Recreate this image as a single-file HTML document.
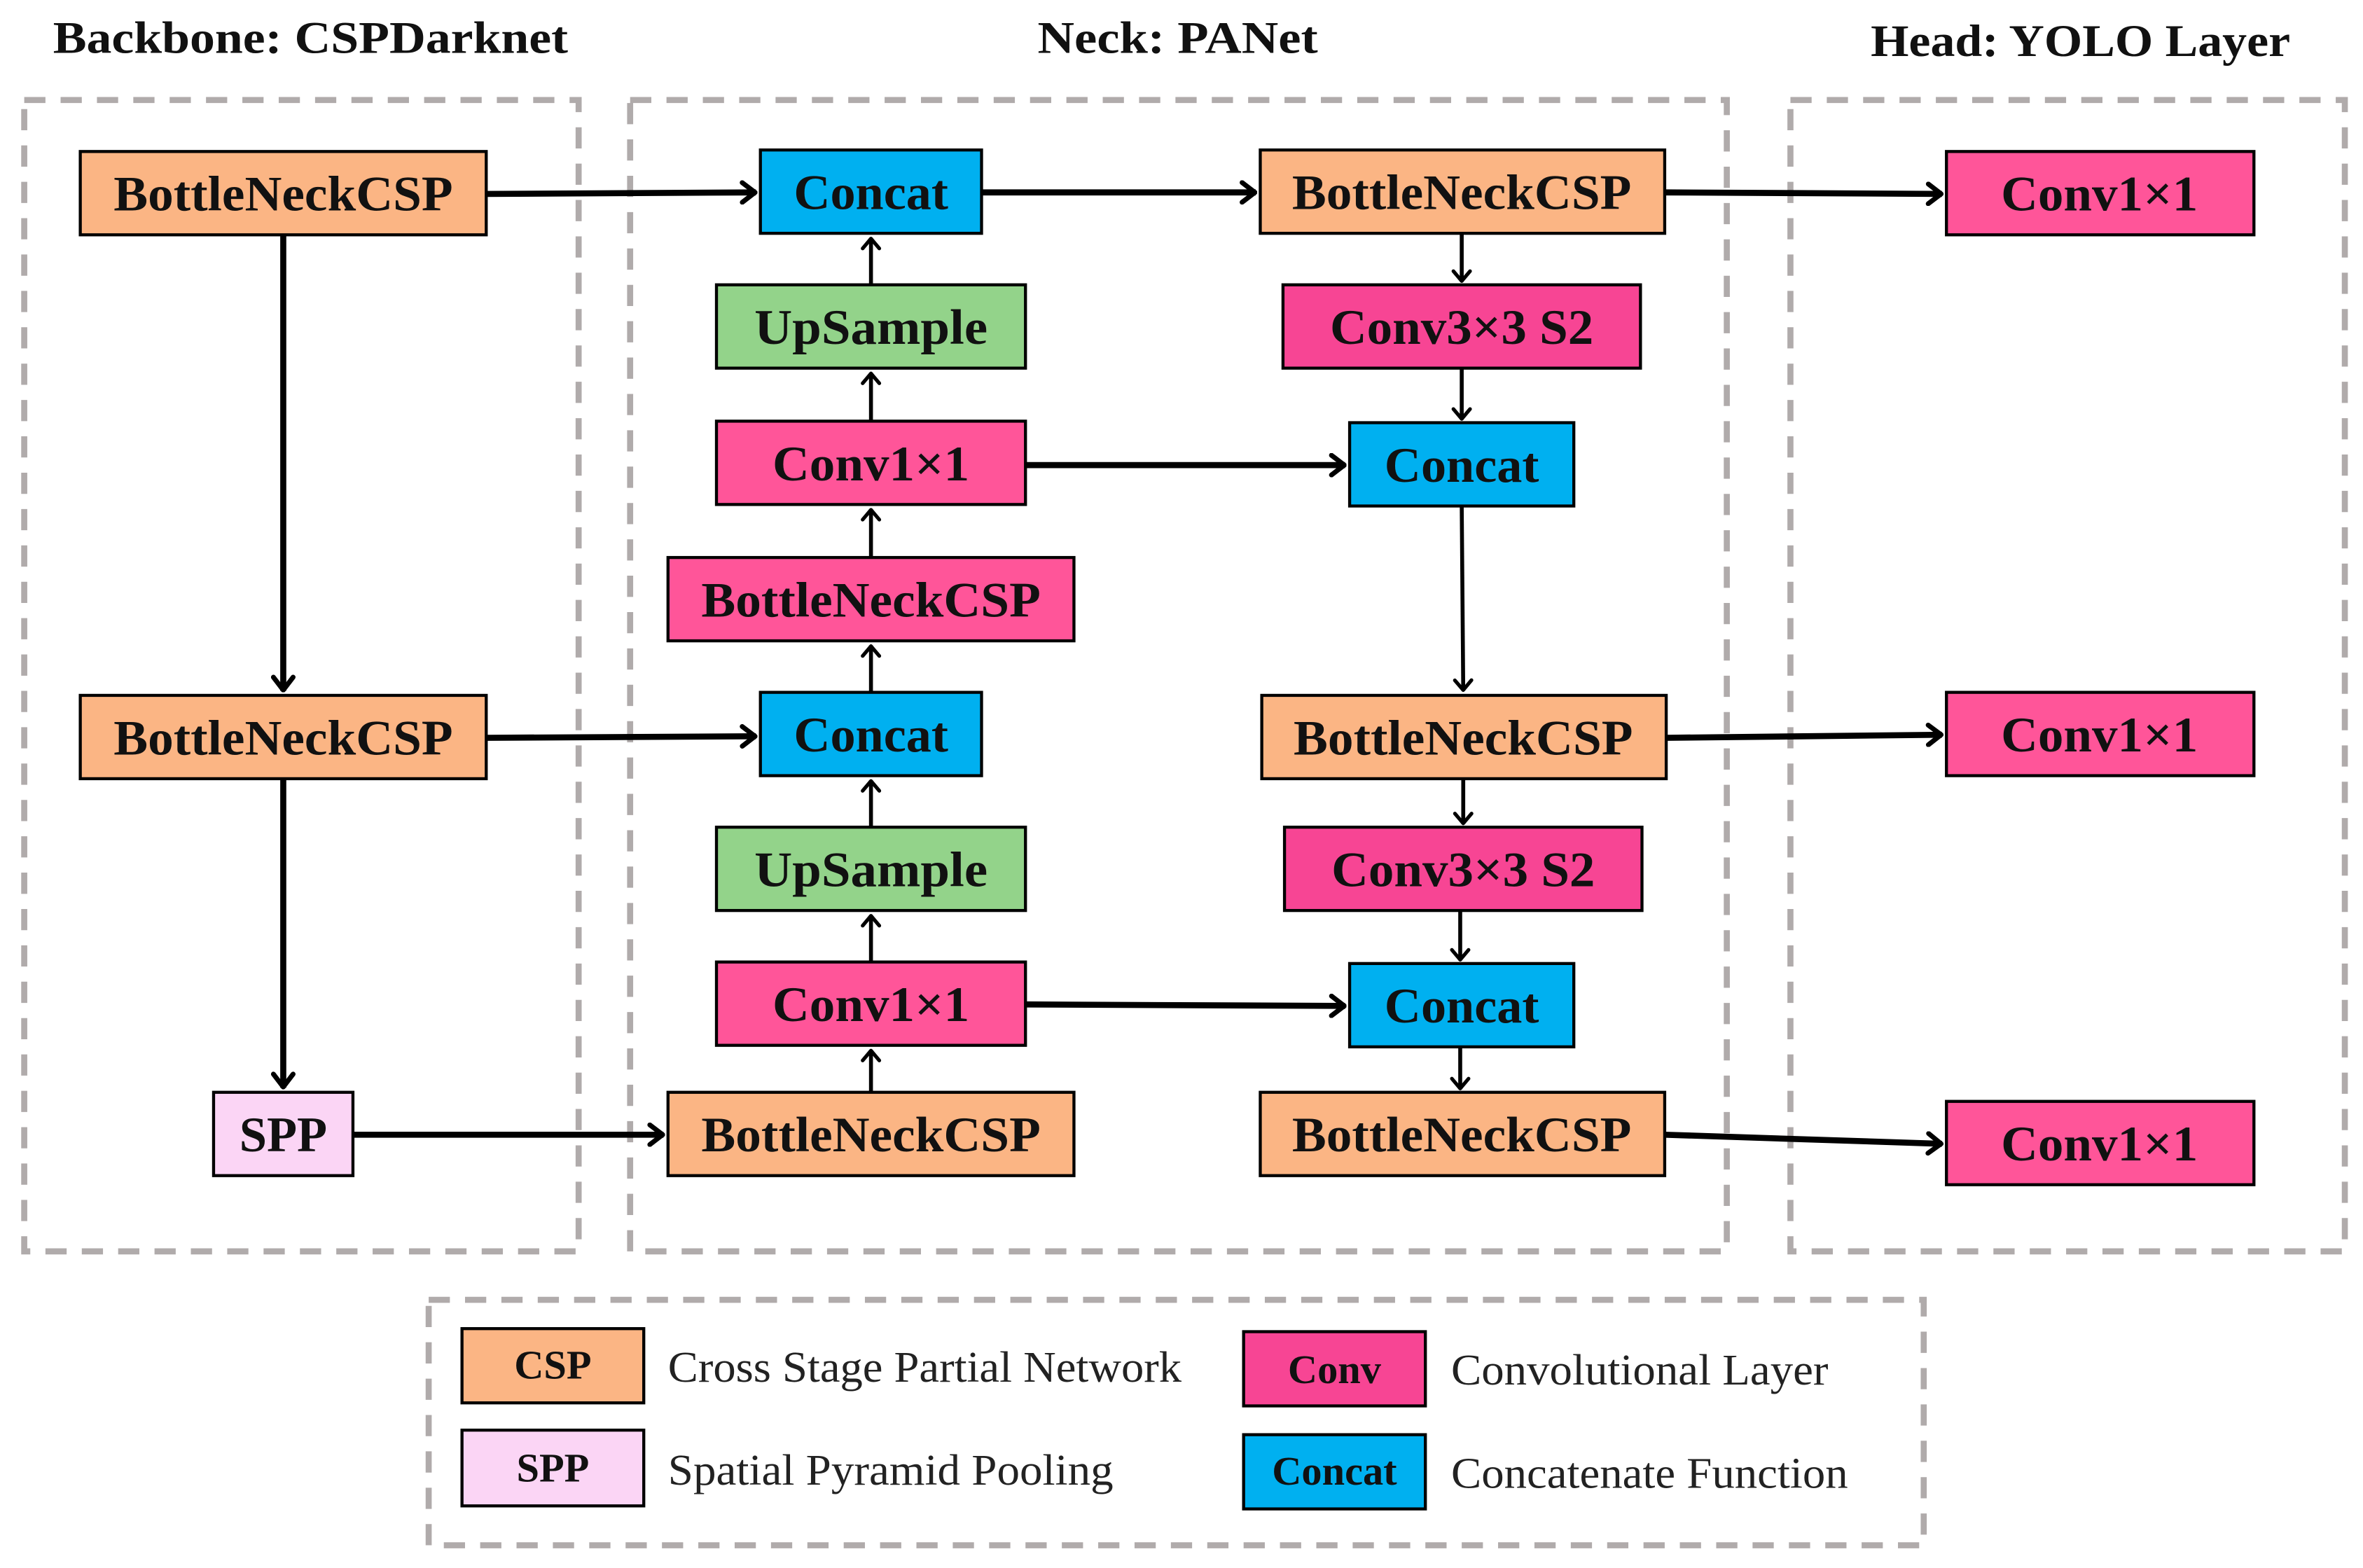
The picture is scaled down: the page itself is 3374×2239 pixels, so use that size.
<!DOCTYPE html>
<html><head><meta charset="utf-8"><style>html,body{margin:0;padding:0;background:#fff}svg{display:block}</style></head>
<body>
<svg width="3374" height="2239" viewBox="0 0 1560 1035" preserveAspectRatio="none" xmlns="http://www.w3.org/2000/svg" font-family="'Liberation Serif',serif">
<defs>
<marker id="a" viewBox="0 0 12 16" refX="11" refY="8" markerWidth="12" markerHeight="16" markerUnits="userSpaceOnUse" orient="auto"><polyline points="2,1.5 10.5,8 2,14.5" fill="none" stroke="#000" stroke-width="3.2" stroke-linecap="round" stroke-linejoin="round"/></marker>
<marker id="b" viewBox="0 0 10 14" refX="9" refY="7" markerWidth="10" markerHeight="14" markerUnits="userSpaceOnUse" orient="auto"><polyline points="2,1.5 8.5,7 2,12.5" fill="none" stroke="#000" stroke-width="2.4" stroke-linecap="round" stroke-linejoin="round"/></marker>
</defs>
<g font-weight="bold" font-size="30" fill="#111">
<text x="35" y="35" textLength="340" lengthAdjust="spacingAndGlyphs">Backbone: CSPDarknet</text>
<text x="685" y="35" textLength="185" lengthAdjust="spacingAndGlyphs">Neck: PANet</text>
<text x="1235" y="37" textLength="277" lengthAdjust="spacingAndGlyphs">Head: YOLO Layer</text>
</g>
<g fill="none" stroke="#b0abab" stroke-width="4" stroke-dasharray="14 10">
<rect x="16" y="66" width="366" height="760"/>
<rect x="416" y="66" width="724" height="760"/>
<rect x="1182" y="66" width="366" height="760"/>
<rect x="283" y="858" width="987" height="162"/>
</g>
<g stroke="#000" stroke-width="2">
<rect x="53" y="100" width="268" height="55" fill="#fbb584"/>
<rect x="53" y="459" width="268" height="55" fill="#fbb584"/>
<rect x="141" y="721" width="92" height="55" fill="#fbd5f5"/>
<rect x="502" y="99" width="146" height="55" fill="#00b0f0"/>
<rect x="473" y="188" width="204" height="55" fill="#93d38a"/>
<rect x="473" y="278" width="204" height="55" fill="#ff5599"/>
<rect x="441" y="368" width="268" height="55" fill="#ff5599"/>
<rect x="502" y="457" width="146" height="55" fill="#00b0f0"/>
<rect x="473" y="546" width="204" height="55" fill="#93d38a"/>
<rect x="473" y="635" width="204" height="55" fill="#ff5599"/>
<rect x="441" y="721" width="268" height="55" fill="#fbb584"/>
<rect x="832" y="99" width="267" height="55" fill="#fbb584"/>
<rect x="847" y="188" width="236" height="55" fill="#f74594"/>
<rect x="891" y="279" width="148" height="55" fill="#00b0f0"/>
<rect x="833" y="459" width="267" height="55" fill="#fbb584"/>
<rect x="848" y="546" width="236" height="55" fill="#f74594"/>
<rect x="891" y="636" width="148" height="55" fill="#00b0f0"/>
<rect x="832" y="721" width="267" height="55" fill="#fbb584"/>
<rect x="1285" y="100" width="203" height="55" fill="#ff5599"/>
<rect x="1285" y="457" width="203" height="55" fill="#ff5599"/>
<rect x="1285" y="727" width="203" height="55" fill="#ff5599"/>
<rect x="305" y="877" width="120" height="49" fill="#fbb584"/>
<rect x="305" y="944" width="120" height="50" fill="#fbd5f5"/>
<rect x="821" y="879" width="120" height="49" fill="#f74594"/>
<rect x="821" y="947" width="120" height="49" fill="#00b0f0"/>
</g>
<g font-weight="bold" font-size="33" fill="#111" text-anchor="middle">
<text x="187" y="139" textLength="224" lengthAdjust="spacingAndGlyphs">BottleNeckCSP</text>
<text x="187" y="498" textLength="224" lengthAdjust="spacingAndGlyphs">BottleNeckCSP</text>
<text x="187" y="760" textLength="58" lengthAdjust="spacingAndGlyphs">SPP</text>
<text x="575" y="138" textLength="102" lengthAdjust="spacingAndGlyphs">Concat</text>
<text x="575" y="227" textLength="154" lengthAdjust="spacingAndGlyphs">UpSample</text>
<text x="575" y="317" textLength="130" lengthAdjust="spacingAndGlyphs">Conv1×1</text>
<text x="575" y="407" textLength="224" lengthAdjust="spacingAndGlyphs">BottleNeckCSP</text>
<text x="575" y="496" textLength="102" lengthAdjust="spacingAndGlyphs">Concat</text>
<text x="575" y="585" textLength="154" lengthAdjust="spacingAndGlyphs">UpSample</text>
<text x="575" y="674" textLength="130" lengthAdjust="spacingAndGlyphs">Conv1×1</text>
<text x="575" y="760" textLength="224" lengthAdjust="spacingAndGlyphs">BottleNeckCSP</text>
<text x="965" y="138" textLength="224" lengthAdjust="spacingAndGlyphs">BottleNeckCSP</text>
<text x="965" y="227" textLength="174" lengthAdjust="spacingAndGlyphs">Conv3×3 S2</text>
<text x="965" y="318" textLength="102" lengthAdjust="spacingAndGlyphs">Concat</text>
<text x="966" y="498" textLength="224" lengthAdjust="spacingAndGlyphs">BottleNeckCSP</text>
<text x="966" y="585" textLength="174" lengthAdjust="spacingAndGlyphs">Conv3×3 S2</text>
<text x="965" y="675" textLength="102" lengthAdjust="spacingAndGlyphs">Concat</text>
<text x="965" y="760" textLength="224" lengthAdjust="spacingAndGlyphs">BottleNeckCSP</text>
<text x="1386" y="139" textLength="130" lengthAdjust="spacingAndGlyphs">Conv1×1</text>
<text x="1386" y="496" textLength="130" lengthAdjust="spacingAndGlyphs">Conv1×1</text>
<text x="1386" y="766" textLength="130" lengthAdjust="spacingAndGlyphs">Conv1×1</text>
</g>
<g font-weight="bold" font-size="27" fill="#111" text-anchor="middle">
<text x="365" y="910">CSP</text>
<text x="365" y="978">SPP</text>
<text x="881" y="913">Conv</text>
<text x="881" y="980">Concat</text>
</g>
<g font-size="29" fill="#222">
<text x="441" y="912" textLength="339" lengthAdjust="spacingAndGlyphs">Cross Stage Partial Network</text>
<text x="441" y="980" textLength="294" lengthAdjust="spacingAndGlyphs">Spatial Pyramid Pooling</text>
<text x="958" y="914" textLength="249" lengthAdjust="spacingAndGlyphs">Convolutional Layer</text>
<text x="958" y="982" textLength="262" lengthAdjust="spacingAndGlyphs">Concatenate Function</text>
</g>
<g stroke="#000" stroke-width="4" fill="none" marker-end="url(#a)">
<line x1="321" y1="128" x2="499" y2="127"/>
<line x1="648" y1="127" x2="829" y2="127"/>
<line x1="1099" y1="127" x2="1282" y2="128"/>
<line x1="187" y1="155" x2="187" y2="456"/>
<line x1="321" y1="487" x2="499" y2="486"/>
<line x1="187" y1="514" x2="187" y2="718"/>
<line x1="233" y1="749" x2="438" y2="749"/>
<line x1="677" y1="307" x2="888" y2="307"/>
<line x1="677" y1="663" x2="888" y2="664"/>
<line x1="1100" y1="487" x2="1282" y2="485"/>
<line x1="1099" y1="749" x2="1282" y2="755"/>
</g>
<g stroke="#000" stroke-width="2.6" fill="none" marker-end="url(#b)">
<line x1="965" y1="334" x2="966" y2="456"/>
<line x1="575" y1="188" x2="575" y2="157"/>
<line x1="575" y1="278" x2="575" y2="246"/>
<line x1="575" y1="368" x2="575" y2="336"/>
<line x1="575" y1="457" x2="575" y2="426"/>
<line x1="575" y1="546" x2="575" y2="515"/>
<line x1="575" y1="635" x2="575" y2="604"/>
<line x1="575" y1="721" x2="575" y2="693"/>
<line x1="965" y1="154" x2="965" y2="186"/>
<line x1="965" y1="243" x2="965" y2="277"/>
<line x1="966" y1="514" x2="966" y2="544"/>
<line x1="964" y1="601" x2="964" y2="634"/>
<line x1="964" y1="691" x2="964" y2="719"/>
</g>
</svg>
</body></html>
